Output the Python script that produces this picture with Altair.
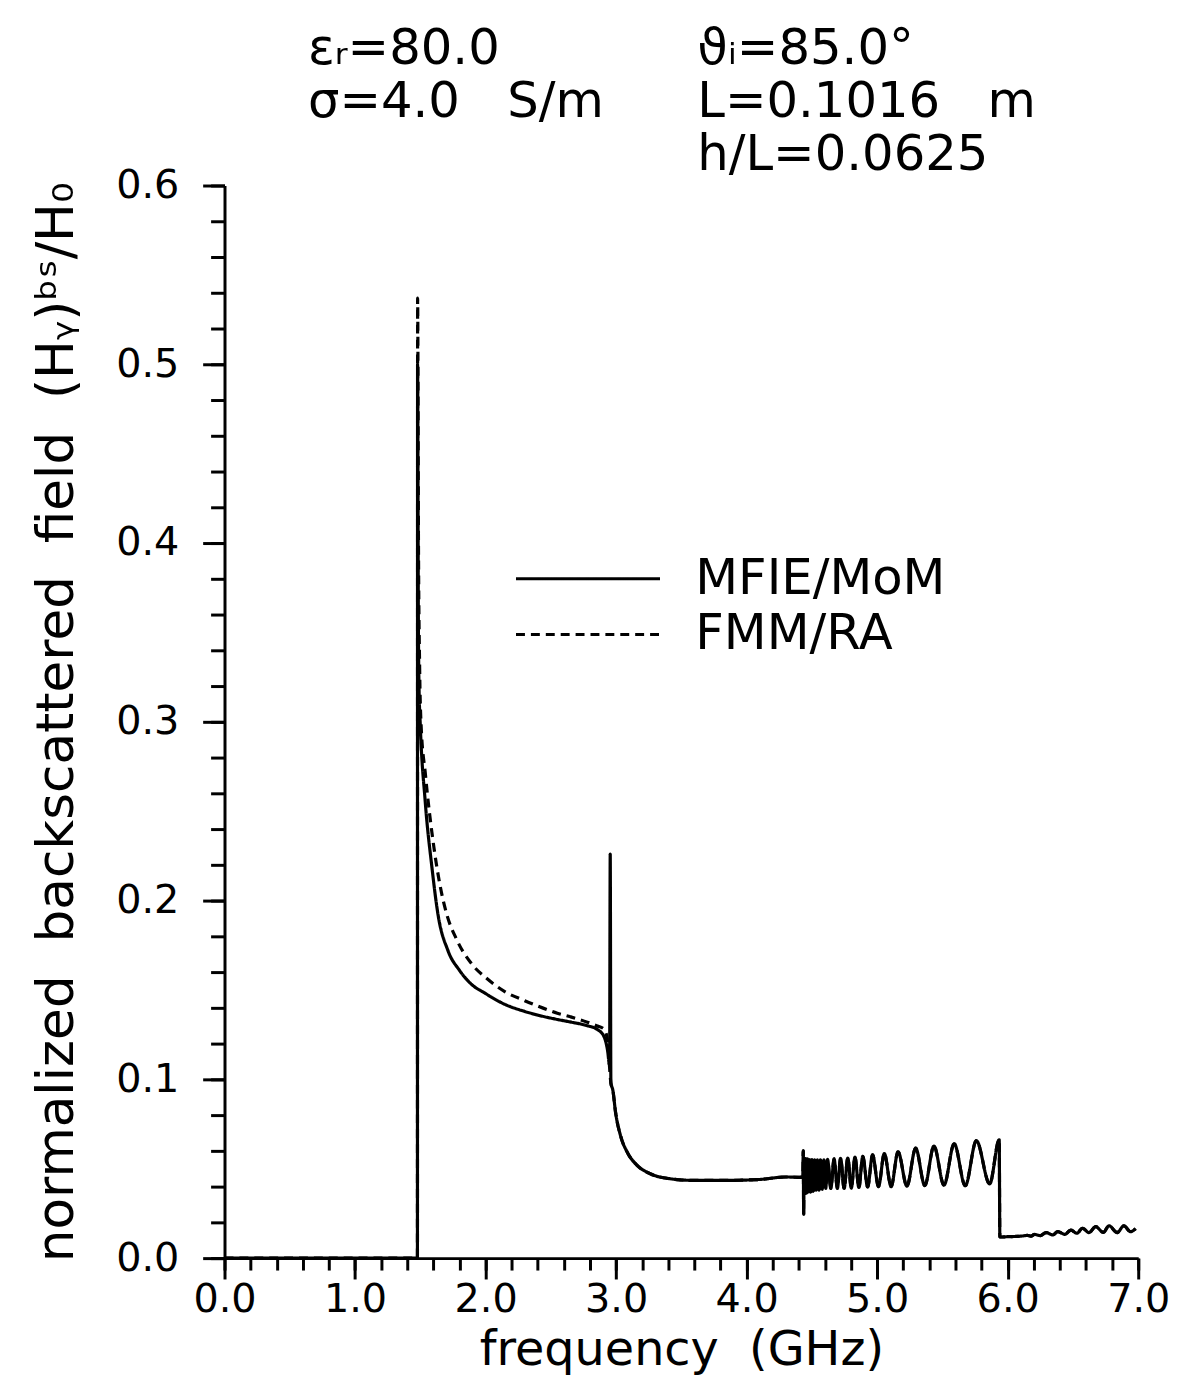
import altair as alt
import pandas as pd

# ---------------- data ----------------
SERIES = ["MFIE/MoM", "FMM/RA"]

# MFIE/MoM (solid line)
mom_f = [0.000, 1.478, 1.479, 1.485, 1.490, 1.500, 1.537, 1.590, 1.636, 1.712,
         1.800, 1.895, 2.000, 2.146, 2.300, 2.397, 2.550, 2.656, 2.780, 2.854,
         2.907, 2.935, 2.950, 2.955, 2.960, 2.975, 2.996, 3.034, 3.085, 3.161,
         3.262, 3.415, 3.592, 3.846, 4.100, 4.302, 4.404, 4.430, 4.434, 4.437,
         4.440, 4.446, 4.452, 4.459, 4.466, 4.474, 4.482, 4.491, 4.500, 4.510,
         4.520, 4.531, 4.542, 4.554, 4.566, 4.579, 4.592, 4.606, 4.620, 4.645,
         4.670, 4.695, 4.720, 4.747, 4.775, 4.802, 4.830, 4.860, 4.890, 4.927,
         4.965, 5.010, 5.055, 5.107, 5.160, 5.228, 5.295, 5.365, 5.435, 5.512,
         5.590, 5.675, 5.760, 5.862, 5.935, 5.940, 5.945, 6.000, 6.050, 6.100,
         6.150, 6.180, 6.205, 6.250, 6.294, 6.345, 6.383, 6.438, 6.484, 6.530,
         6.573, 6.623, 6.674, 6.733, 6.776, 6.839, 6.890, 6.941, 6.980]
mom_v = [0.0000, 0.0000, 0.5000, 0.3600, 0.3200, 0.2980, 0.2560, 0.2180, 0.1920, 0.1720,
         0.1610, 0.1530, 0.1480, 0.1420, 0.1380, 0.1360, 0.1335, 0.1320, 0.1300, 0.1280,
         0.1240, 0.1160, 0.1080, 0.2260, 0.0980, 0.0940, 0.0815, 0.0685, 0.0593, 0.0519,
         0.0472, 0.0444, 0.0435, 0.0435, 0.0440, 0.0454, 0.0452, 0.0455, 0.0600, 0.0245,
         0.0560, 0.0360, 0.0555, 0.0365, 0.0555, 0.0370, 0.0550, 0.0370, 0.0550, 0.0375,
         0.0550, 0.0380, 0.0550, 0.0380, 0.0550, 0.0385, 0.0550, 0.0390, 0.0552, 0.0390,
         0.0555, 0.0390, 0.0558, 0.0390, 0.0560, 0.0392, 0.0565, 0.0395, 0.0570, 0.0398,
         0.0578, 0.0400, 0.0585, 0.0400, 0.0595, 0.0403, 0.0615, 0.0406, 0.0627, 0.0408,
         0.0640, 0.0405, 0.0657, 0.0415, 0.0662, 0.0120, 0.0118, 0.0120, 0.0121, 0.0123,
         0.0127, 0.0123, 0.0133, 0.0126, 0.0143, 0.0130, 0.0148, 0.0133, 0.0157, 0.0139,
         0.0167, 0.0143, 0.0176, 0.0144, 0.0181, 0.0143, 0.0181, 0.0148, 0.0165]

# FMM/RA (dashed line) where it departs from MFIE/MoM
fmm_f = [0.000, 1.478, 1.4795, 1.486, 1.495, 1.505, 1.540, 1.600, 1.650, 1.700,
         1.780, 1.900, 2.000, 2.150, 2.300, 2.400, 2.550, 2.650, 2.780, 2.850,
         2.910, 2.935, 2.960]
fmm_v = [0.000, 0.000, 0.537, 0.400, 0.330, 0.300, 0.270, 0.232, 0.209, 0.193,
         0.178, 0.164, 0.157, 0.149, 0.144, 0.141, 0.137, 0.135, 0.132, 0.130,
         0.128, 0.121, 0.098]
FMM_JOIN_F = 2.975   # beyond this the two curves coincide

x_major = [0, 1, 2, 3, 4, 5, 6, 7]
x_minor = [round(i * 0.2, 1) for i in range(36)]
y_major = [0.0, 0.1, 0.2, 0.3, 0.4, 0.5, 0.6]
y_minor = [round(i * 0.02, 2) for i in range(31)]

NB = "\u00a0"
notes_left = ["εᵣ=80.0", "σ=4.0" + NB * 3 + "S/m"]
notes_right = ["ϑᵢ=85.0°", "L=0.1016" + NB * 3 + "m", "h/L=0.0625"]
x_title = "frequency" + NB * 2 + "(GHz)"
y_title = NB.join(["normalized", "", "backscattered", "", "field", "", "(Hᵧ)ᵇˢ/H₀"])

# ---------------- table ----------------
rows = []
for i, (f, v) in enumerate(zip(mom_f, mom_v)):
    rows.append({"f": f, "v": v, "series": SERIES[0], "i": i})
k = 0
for f, v in zip(fmm_f, fmm_v):
    rows.append({"f": f, "v": v, "series": SERIES[1], "i": k}); k += 1
for f, v in zip(mom_f, mom_v):
    if f >= FMM_JOIN_F:
        rows.append({"f": f, "v": v, "series": SERIES[1], "i": k}); k += 1
df = pd.DataFrame(rows)

FONT = "DejaVu Sans"
xscale = alt.Scale(domain=[0, 7], nice=False, zero=False)
yscale = alt.Scale(domain=[0, 0.6], nice=False)

lines = alt.Chart(df).mark_line(interpolate="monotone", strokeWidth=3.2, color="black").encode(
    x=alt.X("f:Q", scale=xscale,
            axis=alt.Axis(values=x_major, format=".1f", tickSize=21, orient="bottom",
                          labelFlush=False, labelOverlap=False,
                          labelPadding=1, titlePadding=7, title=x_title)),
    y=alt.Y("v:Q", scale=yscale,
            axis=alt.Axis(values=y_major, format=".1f", tickSize=22, orient="left",
                          labelFlush=False, labelOverlap=False,
                          labelPadding=24, titlePadding=32,
                          title=y_title, titleFontSize=52)),
    strokeDash=alt.StrokeDash("series:N",
                              scale=alt.Scale(domain=SERIES, range=[[1, 0], [9, 6]]),
                              legend=alt.Legend(title=None, orient="none", legendX=292, legendY=368,
                                                symbolType="stroke", symbolSize=21025,
                                                symbolStrokeWidth=3, symbolStrokeColor="black",
                                                clipHeight=56, rowPadding=0, padding=0,
                                                labelOffset=34, labelFontSize=50, labelFont=FONT,
                                                labelColor="black", labelBaseline="middle",
                                                labelLimit=0)),
    order="i:Q",
)

minor = alt.Chart(df).mark_point(opacity=0).encode(
    x=alt.X("f:Q", scale=xscale,
            axis=alt.Axis(values=x_minor, labels=False, tickSize=12, title=None,
                          domain=False, orient="bottom")),
    y=alt.Y("v:Q", scale=yscale,
            axis=alt.Axis(values=y_minor, labels=False, tickSize=14, title=None,
                          domain=False, orient="left")),
)

def note(lines_, x, y):
    return alt.Chart(pd.DataFrame({"k": [0]})).mark_text(
        font=FONT, fontSize=50, align="left", baseline="alphabetic", color="black",
        lineHeight=53
    ).encode(text=alt.value(lines_), x=alt.value(x), y=alt.value(y))

texts = [
    note(notes_left, 84, -122),
    note(notes_right, 476, -122),
]

chart = alt.layer(lines, minor, *texts).resolve_axis(
    x="independent", y="independent"
).properties(
    width=920, height=1080,
    padding={"left": 218, "top": 174, "right": 32, "bottom": 121},
    autosize=alt.AutoSizeParams(type="none"),
).configure_axis(
    domainColor="black", domainWidth=3, tickColor="black", tickWidth=3, grid=False,
    labelFont=FONT, labelFontSize=40, labelColor="black",
    titleFont=FONT, titleFontSize=48, titleFontWeight="normal", titleColor="black",
).configure_view(stroke=None)

chart.save("out.html", embed_options={"renderer": "svg", "actions": False})
